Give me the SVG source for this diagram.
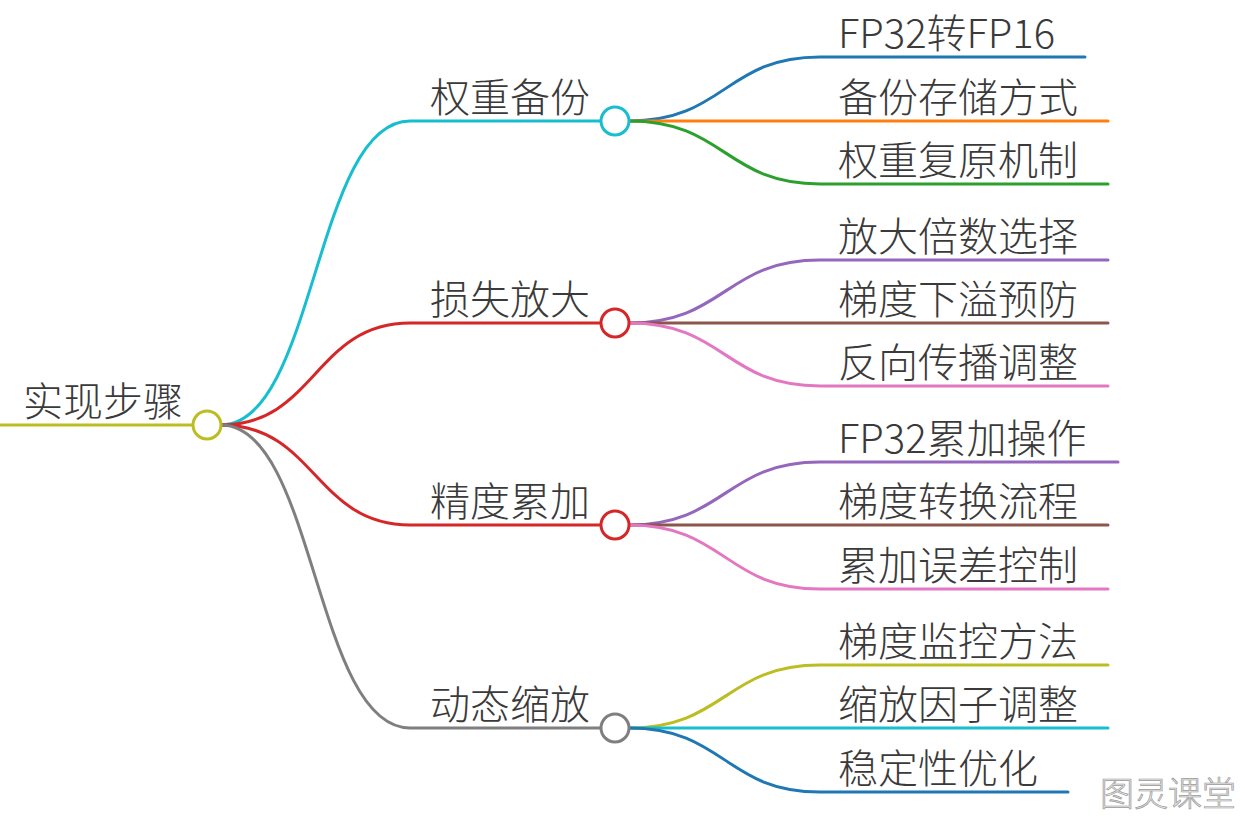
<svg xmlns="http://www.w3.org/2000/svg" width="1245" height="819" viewBox="0 0 1245 819">
<style>
text{font-family:"Noto Sans CJK SC","Noto Sans",sans-serif;font-size:40px;fill:#3a3a3a;font-weight:300}
.l{fill:none;stroke-width:3;stroke-linecap:round}
.c{fill:#fff;stroke-width:3}
.wm{font-size:34px;fill:#e6e6e6;stroke:#9a9a9a;stroke-width:0.7}
</style>
<rect width="1245" height="819" fill="#fff"/>
<g id="connectors">
<path class="l" stroke="#bcbd22" d="M0 425H193"/>
<path class="l" stroke="#17becf" d="M221 425C315 425 315 121 410 121H601"/>
<path class="l" stroke="#d62728" d="M221 425C315 425 315 323 410 323H601"/>
<path class="l" stroke="#d62728" d="M221 425C315 425 315 525 410 525H601"/>
<path class="l" stroke="#7f7f7f" d="M221 425C315 425 315 728 410 728H601"/>
<path class="l" stroke="#1f77b4" d="M629 121C725 121 725 57 820 57H1085"/>
<path class="l" stroke="#ff7f0e" d="M629 121H1108"/>
<path class="l" stroke="#2ca02c" d="M629 121C725 121 725 184 820 184H1108"/>
<path class="l" stroke="#9467bd" d="M629 323C725 323 725 260 820 260H1108"/>
<path class="l" stroke="#8c564b" d="M629 323H1108"/>
<path class="l" stroke="#e377c2" d="M629 323C725 323 725 386 820 386H1108"/>
<path class="l" stroke="#9467bd" d="M629 525C725 525 725 462 820 462H1118"/>
<path class="l" stroke="#8c564b" d="M629 525H1108"/>
<path class="l" stroke="#e377c2" d="M629 525C725 525 725 589 820 589H1108"/>
<path class="l" stroke="#bcbd22" d="M629 728C725 728 725 665 820 665H1108"/>
<path class="l" stroke="#17becf" d="M629 728H1108"/>
<path class="l" stroke="#1f77b4" d="M629 728C725 728 725 792 820 792H1068"/>
</g>
<g id="root"><circle class="c" stroke="#bcbd22" cx="207" cy="425" r="14"/><text x="23" y="416">实现步骤</text></g>
<g id="b1"><circle class="c" stroke="#17becf" cx="615" cy="121" r="14"/><text x="430" y="112">权重备份</text></g>
<g id="b2"><circle class="c" stroke="#d62728" cx="615" cy="323" r="14"/><text x="430" y="314">损失放大</text></g>
<g id="b3"><circle class="c" stroke="#d62728" cx="615" cy="525" r="14"/><text x="430" y="516">精度累加</text></g>
<g id="b4"><circle class="c" stroke="#7f7f7f" cx="615" cy="728" r="14"/><text x="430" y="719">动态缩放</text></g>
<g id="l1"><text x="838" y="48">FP32转FP16</text></g>
<g id="l2"><text x="838" y="112">备份存储方式</text></g>
<g id="l3"><text x="838" y="175">权重复原机制</text></g>
<g id="l4"><text x="838" y="251">放大倍数选择</text></g>
<g id="l5"><text x="838" y="314">梯度下溢预防</text></g>
<g id="l6"><text x="838" y="377">反向传播调整</text></g>
<g id="l7"><text x="838" y="453">FP32累加操作</text></g>
<g id="l8"><text x="838" y="516">梯度转换流程</text></g>
<g id="l9"><text x="838" y="580">累加误差控制</text></g>
<g id="l10"><text x="838" y="656">梯度监控方法</text></g>
<g id="l11"><text x="838" y="719">缩放因子调整</text></g>
<g id="l12"><text x="838" y="783">稳定性优化</text></g>
<g id="watermark"><text class="wm" x="1100" y="806">图灵课堂</text></g>
</svg>
